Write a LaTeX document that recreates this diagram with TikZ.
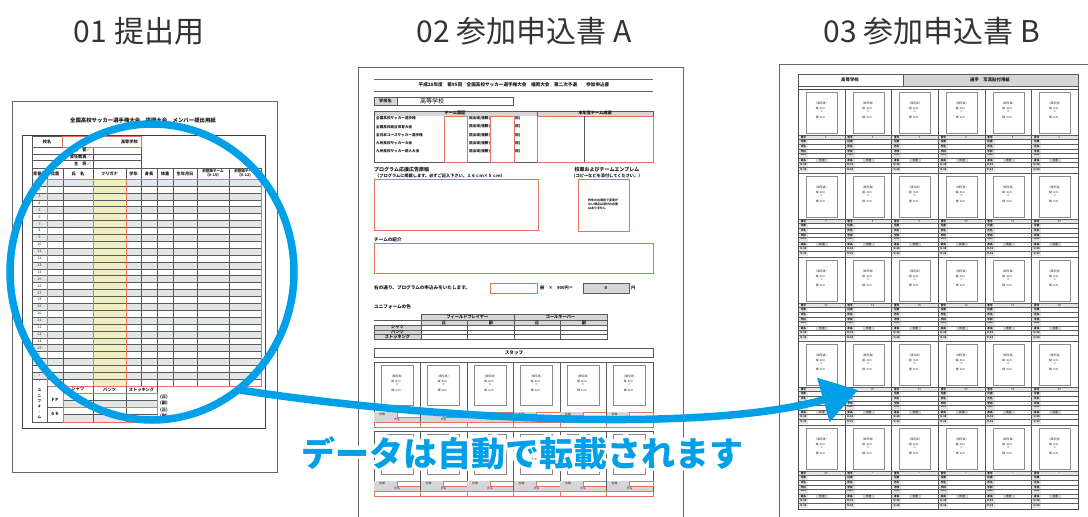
\documentclass[tikz,border=0pt]{standalone}
\usepackage{fontspec}
\usetikzlibrary{arrows.meta}
\newfontfamily\jp{Noto Sans CJK JP}
\definecolor{cy}{HTML}{00A0E9}
\definecolor{rd}{HTML}{E5735F}
\definecolor{gf}{HTML}{E3E6E6}
\definecolor{yf}{HTML}{EEF0C2}
\definecolor{hg}{HTML}{D6D6D6}
\tikzset{
  doc/.style={draw=black!60, line width=0.9pt, fill=white},
  gl/.style={draw=black!65, line width=0.35pt},
  rl/.style={draw=rd, line width=0.7pt},
  pl/.style={draw=black!45, line width=0.35pt},
  tx/.style={font=\jp\fontsize{3.4}{3.8}\selectfont, inner sep=0pt, text=black!85},
  txs/.style={font=\jp\fontsize{2.8}{3.1}\selectfont, inner sep=0pt, text=black!85},
  txb/.style={font=\jp\bfseries\fontsize{4.2}{4.6}\selectfont, inner sep=0pt, text=black!90},
  ttl/.style={font=\jp\fontsize{30}{30}\selectfont, inner sep=0pt, text=black!80},
  big/.style={font=\jp\bfseries\fontsize{34}{34}\selectfont, inner sep=0pt},
  arrowline/.style={draw=cy, line width=7.5pt},
}
\begin{document}
\begin{tikzpicture}[x=1pt,y=-1pt]
\useasboundingbox (0,0) rectangle (1088,517);
\path[clip] (0,0) rectangle (1088,517);
\fill[white] (0,0) rectangle (1088,517);

% ---------- titles ----------
\node[ttl] (t1) at (139,31) {01 提出用};
\node[ttl] (t2) at (524,31) {02 参加申込書 A};
\node[ttl] (t3) at (932,31) {03 参加申込書 B};

% ================= DOC 1 =================
\draw[doc] (12,101) rectangle (277,472);
\draw[draw=black!75, line width=0.8pt] (22,135) rectangle (265,428);
\node[txb, font=\jp\bfseries\fontsize{5.4}{6}\selectfont] (d1title) at (143,121) {全国高校サッカー選手権大会　福岡大会　メンバー提出用紙};
% top block
\draw[gl] (32,136) -- (141,136);
\foreach \yy in {147,153.7,160.3} \draw[gl] (32,\yy) -- (141,\yy);
\draw[gl] (141,136) -- (141,168);
\draw[gl] (93,147) -- (93,168);
\draw[rl] (62,136) rectangle (141,147);
\node[txb] (d1kou) at (47,141.5) {校名};
\node[txb, anchor=east] (d1kk) at (138,141.5) {高等学校};
\node[txb, anchor=east] (d1a) at (91,150.3) {監　督／};
\node[txb, anchor=east] (d1b) at (91,157) {責任教員／};
\node[txb, anchor=east] (d1c) at (91,163.6) {主　将／};
% rows
\foreach \i in {0,2,...,28} \fill[gf] (32,{179+\i*6.9}) rectangle (261,{179+(\i+1)*6.9});
\fill[yf] (93,179) rectangle (126,386);
\foreach \i in {1,...,29} \draw[gl] (32,{179+\i*6.9}) -- (261,{179+\i*6.9});
\draw[gl] (32,168) -- (261,168);
\foreach \x in {47,63,93,126,141,157,173,197,229,261} \draw[gl] (\x,168) -- (\x,386);
\draw[gl] (32,136) -- (32,422);
\draw[rl] (47,179) rectangle (261,386);
\draw[rl] (93,179) -- (93,386);
\draw[rl] (126,179) -- (126,386);
\foreach \x/\lab [count=\k] in {39.5/背番号,55/位置,78/氏　名,109.5/フリガナ,133.5/学年,149/身長,165/体重,185/生年月日}
  \node[txb] (d1h\k) at (\x,173.5) {\lab};
\node[txb, align=center, font=\jp\bfseries\fontsize{3.6}{3.9}\selectfont] (d1h9) at (213,173.5) {前登録チーム\\(U-15)};
\node[txb, align=center, font=\jp\bfseries\fontsize{3.6}{3.9}\selectfont] (d1h10) at (245,173.5) {前登録チーム\\(U-12)};
\foreach \n in {1,...,25} \node[tx] (d1r\n) at (39.5,{179+(\n-0.5)*6.9}) {\n};
\foreach \n in {26,...,30} \node[tx] (d1r\n) at (39.5,{179+(\n-0.5)*6.9}) {*};
% uniform block
\fill[gf] (63,400) rectangle (157,407);
\fill[gf] (63,414) rectangle (157,422);
\draw[gl] (47,386) -- (47,422);
\draw[gl] (63,386) -- (63,422);
\draw[gl] (32,422) -- (63,422);
\draw[gl] (47,407) -- (63,407);
\draw[gl] (63,400) -- (157,400);
\draw[gl] (63,414) -- (157,414);
\draw[gl] (93,386) -- (93,422);
\draw[gl] (126,386) -- (126,422);
\draw[gl] (157,386) -- (157,393);
\draw[rl] (63,393) rectangle (157,422);
\draw[rl] (63,407) -- (157,407);
\node[txb] (d1u1) at (78,389.5) {シャツ};
\node[txb] (d1u2) at (109.5,389.5) {パンツ};
\node[txb] (d1u3) at (141.5,389.5) {ストッキング};
\node[txb] (d1fp) at (55,400) {F P};
\node[txb] (d1gk) at (55,414) {G K};
\node[txb, align=center, font=\jp\bfseries\fontsize{3.6}{5.4}\selectfont] (d1uni) at (39.5,404) {ユ\\ニ\\フ\\ォ\\｜\\ム};
\foreach \yy/\lab [count=\k] in {397/(正),403/(副),410/(正),416/(副)}
  \node[txb, anchor=west] (d1n\k) at (160,\yy) {\lab};

% ================= DOC 2 =================
\draw[doc] (358,67) rectangle (683,540);
\draw[draw=black!60, line width=0.9pt] (374,79) -- (653,79);
\draw[draw=black!60, line width=0.9pt] (374,91) -- (653,91);
\node[txb, font=\jp\bfseries\fontsize{4.6}{5}\selectfont] (d2title) at (514,85) {平成28年度　第95回　全国高校サッカー選手権大会　福岡大会　第二次予選　　参加申込書};
\fill[hg] (374,97) rectangle (397,105);
\draw[gl] (374,97) rectangle (513,105);
\draw[gl] (397,97) -- (397,105);
\node[txb] (d2gk) at (385.5,101) {学校名};
\node[font=\jp\fontsize{6}{6}\selectfont, inner sep=0pt] (d2kk) at (432,101) {高等学校};
% team history
\fill[hg] (374,111) rectangle (653,115.5);
\draw[gl] (374,111) rectangle (653,162);
\draw[gl] (537,111) -- (537,116);
\node[txb] (d2h1) at (455,113.3) {チーム履歴};
\node[txb] (d2h2) at (595,113.3) {本年度チーム成績};
\foreach \yy/\lab [count=\k] in {118.3/全国高校サッカー選手権,126.7/全国高校総合体育大会,135/全日本ユースサッカー選手権,143/九州高校サッカー大会,151/九州高校サッカー新人大会}{
  \node[txb, anchor=west, font=\jp\bfseries\fontsize{3.6}{4}\selectfont] (d2l\k) at (376,\yy) {\lab};
  \node[txb, anchor=west, font=\jp\bfseries\fontsize{3.6}{4}\selectfont] (d2m\k) at (469,\yy) {回出場/優勝(};
  \node[txb, anchor=west, font=\jp\bfseries\fontsize{3.6}{4}\selectfont] (d2e\k) at (515,\yy) {回)};
}
\draw[rl] (444,116) rectangle (467,162);
\draw[rl] (490,116) rectangle (514,162);
\draw[rl] (537,116) rectangle (653,162);
\draw[gl] (584,116) -- (584,162);
% program ad
\node[txb, anchor=west, font=\jp\bfseries\fontsize{5}{5}\selectfont] (d2p) at (374,170) {プログラム応援広告原稿};
\node[txb, anchor=west] (d2ps) at (375,176) {（プログラムに掲載します。必ずご記入下さい。１６ｃｍ×５ｃｍ）};
\draw[rl] (374,179) rectangle (538,230);
\node[txb, font=\jp\bfseries\fontsize{5}{5}\selectfont] (d2em) at (607,170) {校章およびチームエンブレム};
\node[txb] (d2ems) at (607,176) {（コピーなどを添付してください。）};
\draw[rl] (578,179) rectangle (629,231);
\node[txs, align=left, font=\jp\bfseries\fontsize{3}{4}\selectfont] (d2emt) at (603,204) {昨年の出場校で変更が\\ない場合は添付の必要\\はありません};
% team intro
\node[txb, anchor=west, font=\jp\bfseries\fontsize{4.6}{5}\selectfont] (d2ti) at (374,240) {チームの紹介};
\draw[rl] (374,243) rectangle (653,273);
% order
\node[txb, anchor=west, font=\jp\bfseries\fontsize{4.6}{5}\selectfont] (d2o) at (374,288) {右の通り、プログラムの申込みをいたします。};
\draw[rl] (490,283) rectangle (537,293);
\node[txb, anchor=west] (d2o2) at (540,288) {冊　×　900円＝};
\fill[hg] (583,283) rectangle (629,293);
\draw[gl] (583,283) rectangle (629,293);
\node[txb] (d2o3) at (606,288) {0};
\node[txb, anchor=west] (d2o4) at (631,288) {円};
% uniform colours
\node[txb, anchor=west, font=\jp\bfseries\fontsize{4.6}{5}\selectfont] (d2u) at (374,307) {ユニフォームの色};
\fill[hg] (421,314) rectangle (607,325);
\fill[hg] (374,325) rectangle (421,339);
\draw[gl] (421,314) rectangle (607,339);
\draw[gl] (374,325) rectangle (421,339);
\foreach \yy in {320,325,330,334.5} \draw[gl] (374,\yy) -- (607,\yy);
\draw[gl] (514,314) -- (514,339);
\draw[gl] (467.5,320) -- (467.5,339);
\draw[gl] (560.5,320) -- (560.5,339);
\node[txb] (d2u1) at (467.5,317) {フィールドプレイヤー};
\node[txb] (d2u2) at (560.5,317) {ゴールキーパー};
\foreach \x/\lab [count=\k] in {444/正,491/副,537/正,584/副} \node[txb] (d2s\k) at (\x,322.5) {\lab};
\node[txb] (d2r1) at (397.5,327.5) {シャツ};
\node[txb] (d2r2) at (397.5,332.2) {パンツ};
\node[txb] (d2r3) at (397.5,336.8) {ストッキング};
% staff
\draw[gl, line width=0.5pt] (374,348) rectangle (653,357);
\node[txb, font=\jp\bfseries\fontsize{4.6}{5}\selectfont] (d2st) at (514,352.5) {スタッフ};
\foreach \r/\Y in {0/362,1/431}{
  \foreach \c in {0,...,5}{
    \pgfmathsetmacro\X{374+\c*46.5}
    \draw[gl] (\X,\Y) rectangle ++(46.5,65);
    \draw[pl] (\X+7,\Y+3) rectangle (\X+39,\Y+43);
    \node[txs] (d2a-\r-\c) at (\X+23,\Y+14) {（顔写真）};
    \node[txs] (d2b-\r-\c) at (\X+22,\Y+19) {縦 \,4cm};
    \node[txs] (d2c-\r-\c) at (\X+23,\Y+23) {×};
    \node[txs] (d2d-\r-\c) at (\X+22,\Y+28) {横 \,3cm};
    \fill[hg] (\X,\Y+50) rectangle (\X+23,\Y+55);
    \fill[hg] (\X,\Y+55) rectangle (\X+46.5,\Y+60);
    \draw[rl] (\X+23,\Y+50) rectangle (\X+46.5,\Y+55);
    \draw[rl] (\X,\Y+60) rectangle (\X+46.5,\Y+65);
    \node[txs] (d2e-\r-\c) at (\X+8,\Y+52.5) {役職};
    \node[txs] (d2f-\r-\c) at (\X+23,\Y+57.5) {氏名};
  }
}

% ================= DOC 3 =================
\draw[doc] (779,64) rectangle (1110,540);
\draw[gl] (798,74) rectangle (903,86);
\fill[hg] (903,74) rectangle (1078,86);
\draw[gl] (903,74) rectangle (1078,86);
\draw[gl] (798,86) rectangle (1078,89);
\node[txb, font=\jp\bfseries\fontsize{4.4}{5}\selectfont] (d3k) at (850,80) {高等学校};
\node[txb, font=\jp\bfseries\fontsize{4.4}{5}\selectfont] (d3s) at (990,80) {選手　写真貼付用紙};
\foreach \r in {0,...,4}{
  \foreach \c in {0,...,5}{
    \pgfmathsetmacro\X{798+\c*46.67}
    \pgfmathsetmacro\Y{89+\r*84}
    \pgfmathtruncatemacro\num{\r*6+\c+1}
    \fill[gf] (\X,\Y+46) rectangle ++(46.67,4.6);
    \fill[gf] (\X+0.8,\Y+50.6) rectangle (\X+10,\Y+83.4);
    \fill[hg] (\X+18,\Y+69.6) rectangle (\X+30,\Y+73.4);
    \foreach \k in {0,...,7} \draw[gl] (\X,{\Y+46+\k*4.6}) -- ++(46.67,0);
    \draw[gl] (\X,\Y) rectangle ++(46.67,84);
    \draw[pl] (\X+8,\Y+3) rectangle (\X+39,\Y+44);
    \node[txs] (d3a-\r-\c) at (\X+23.5,\Y+14) {（顔写真）};
    \node[txs] (d3b-\r-\c) at (\X+22.5,\Y+19) {縦 \,4cm};
    \node[txs] (d3c-\r-\c) at (\X+23.5,\Y+23) {×};
    \node[txs] (d3d-\r-\c) at (\X+22.5,\Y+28) {横 \,3cm};
    \foreach \lab [count=\k from 0] in {番号,位置,氏名,学校,****,身長,U-15,U-12}
      \node[txs, font=\jp\bfseries\fontsize{2.6}{3}\selectfont] (d3l-\r-\c-\k) at (\X+5.4,{\Y+48.3+\k*4.6}) {\lab};
    \node[txs] (d3w-\r-\c) at (\X+24,\Y+71.5) {体重};
    \node[txs] (d3n-\r-\c) at (\X+28,\Y+48.3) {\ifnum\num>25 *\else\num\fi};
  }
}
\draw[draw=black!70, line width=0.8pt] (798,89) rectangle (1078,509);

% ================= circle + arrow =================
\draw[draw=cy, line width=7.5pt] (152,272) ellipse [x radius=142pt, y radius=148pt];
\coordinate (as) at (240,390);
\coordinate (ae) at (858,390);
\draw[arrowline, -{Triangle[length=36pt,width=44pt]}] (as) .. controls (420,418) and (700,435) .. (ae);

% ================= caption =================
\foreach \a [count=\k] in {0,30,...,330}
  \node[big, text=white] (halo\k) at ({522+3.2*cos(\a)},{453+3.2*sin(\a)}) {データは自動で転載されます};
\node[big, text=cy] (cap) at (522,453) {データは自動で転載されます};
\end{tikzpicture}
\end{document}
